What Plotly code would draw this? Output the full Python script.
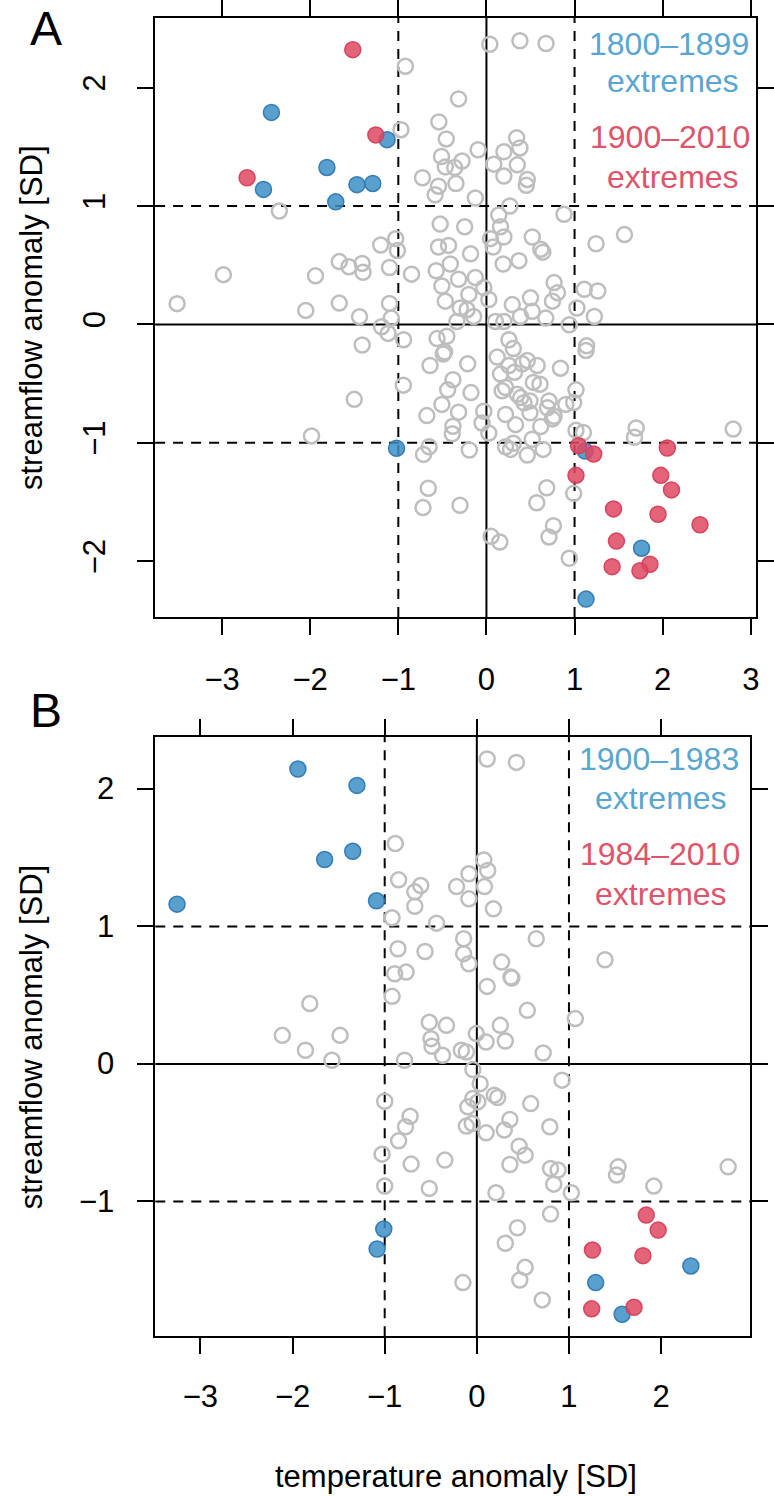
import plotly.graph_objects as go

# ---------------- data ----------------
# Panel A (1800-2010): grey = all years, blue = 1800-1899 extremes, red = 1900-2010 extremes
a_grey_x = [-2.35, -2.985, -3.51, -1.94, -1.67, -1.56, -1.41, -1.40, -1.20, -1.10, -2.05, -1.67, -1.44, -1.10, -1.19, -1.116, -1.41,
            0.038, 0.38, 0.676, -0.92, -0.316, -0.97, -0.54, -0.456, -0.095, 0.343, 0.38, 0.198, -0.51, -0.277, -0.36, -0.467,
            0.083, 0.35, -0.726, -0.346, -0.544, -0.582, 0.198, 0.464, 0.453, -0.126, 0.266, 0.88, 0.14, -0.525, -0.247, 0.16,
            1.566, 1.244, 0.52, 0.64, 0.617, 0.046, 0.198, 0.076, -0.544, -0.43, -1.03, -1.01, -0.18, 0.369, 0.19, -0.41, -0.57,
            -0.85, -0.506, -0.316, -0.2, -0.126, -0.03, 0.027, -0.467, -0.297, -0.22, -0.145, -0.335, 0.293, 0.50, 0.768, 0.806,
            0.749, 0.673, 0.52, 0.386, 0.198, 0.102, 1.11, 1.263, 1.027, 1.225, 0.94, -1.08, -0.94, -0.56, -0.45, 0.255, 1.13, -0.49,
            1.137, 1.016, 0.90, 0.99, 1.7, 1.68, 2.8, 1.016, 1.10, 0.684, 0.571, 0.99, 0.76, 0.71, 0.94, 0.053, 0.152, -0.66, -0.72,
            -0.30, -0.65, -0.714, -0.194, -0.943, -0.676, -0.506, -0.38, -0.388, -0.316, -0.38, -0.44, -0.175, -0.475, -0.64,
            -0.213, -0.03, -0.05, 0.027, 0.217, 0.33, 0.494, 0.616, 0.52, 0.643, 0.464, 0.274, 0.217, 0.305, 0.749, 0.692, 0.71,
            0.388, 0.426, 0.494, 0.35, 0.608, 0.532, 0.179, 0.217, 0.16, 0.319, 0.255, 0.122, 0.305, 0.464, 0.576, 0.407, 0.84,
            0.768, -1.50, -1.985]
a_grey_y = [0.957, 0.42, 0.175, 0.41, 0.53, 0.487, 0.515, 0.44, 0.67, 0.48, 0.118, 0.18, 0.065, 0.177, -0.02, -0.076, -0.174,
            2.366, 2.395, 2.372, 2.18, 1.904, 1.644, 1.71, 1.566, 1.475, 1.575, 1.49, 1.458, 1.418, 1.38, 1.324, 1.33,
            1.353, 1.347, 1.238, 1.19, 1.167, 1.095, 1.252, 1.224, 1.175, 1.067, 1.0, 0.93, 0.924, 0.847, 0.824, 0.824,
            0.758, 0.681, 0.738, 0.61, 0.635, 0.724, 0.738, 0.653, 0.653, 0.667, 0.724, 0.624, 0.596, 0.538, 0.51, 0.51, 0.453,
            0.424, 0.324, 0.381, 0.253, 0.396, 0.31, 0.21, 0.196, 0.138, 0.124, 0.067, 0.024, 0.167, 0.224, 0.353, 0.268,
            0.196, 0.053, 0.11, 0.067, 0.024, 0.024, 0.296, 0.282, 0.138, 0.067, -0.004, 0.053, -0.13, -0.12, -0.10, -0.13, -0.22, -0.25,
            -0.181, -0.553, -0.676, -0.66, -0.875, -0.953, -0.884, -0.895, -0.913, -1.38, -1.506, -1.427, -1.70, -1.795, -1.975, -1.79, -1.838, -1.384, -1.547,
            -1.527, -1.033, -1.098, -1.061, -0.513, -0.77, -0.676, -0.86, -0.924, -0.741, -0.467, -0.553, -0.576, -0.233, -0.347,
            -0.333, -0.733, -0.833, -0.918, -0.761, -0.847, -0.747, -0.862, -0.97, -1.056, -1.104, -1.056, -1.033, -1.004, -0.798, -0.704, -0.647,
            -0.618, -0.662, -0.647, -0.59, -0.505, -0.49, -0.561, -0.533, -0.419, -0.404, -0.347, -0.276, -0.204, -0.305, -0.347, -0.333, -0.37,
            -0.776, -0.633, -0.942]
a_blue_x = [-2.44, -1.127, -1.81, -2.53, -1.47, -1.29, -1.71, -1.02, 1.12, 1.76, 1.13]
a_blue_y = [1.79, 1.56, 1.325, 1.14, 1.18, 1.19, 1.035, -1.047, -1.07, -1.89, -2.32]
a_red_x = [-1.517, -1.255, -2.716, 1.045, 1.217, 2.053, 1.016, 1.978, 2.1, 1.442, 1.947, 2.423, 1.475, 1.426, 1.855, 1.742]
a_red_y = [2.32, 1.60, 1.238, -1.024, -1.095, -1.044, -1.275, -1.275, -1.398, -1.558, -1.603, -1.692, -1.83, -2.046, -2.026, -2.08]

# Panel B (1900-2010): blue = 1900-1983 extremes, red = 1984-2010 extremes
b_grey_x = [-0.885, -0.849, -0.609, -0.673, -0.673, -0.92, -0.437, -0.856, -0.562, -0.892, -0.767, -0.92, -1.813, -2.111,
            -1.484, -1.86, -1.573, -0.516, -0.329, -0.498, -0.487, -0.372, -0.785,
            0.112, 0.43, 0.075, 0.118, -0.086, -0.22, 0.083, -0.086, 0.18, 0.645, -0.143, -0.143, -0.086, 0.269, 1.391, 0.37, 0.38,
            0.112, 0.548, 1.069, 0.255, -0.006, 0.309, 0.1, -0.168, -0.114, 0.72,
            -1.0, -0.724, -0.774, -0.849, -1.028, -0.713, -0.347, -1.0, -0.516,
            -0.043, 0.036, 0.19, 0.226, -0.043, 0.011, -0.097, 0.585, 0.925, -0.114, -0.05, 0.101, 0.298, 0.359, 0.792, 0.459,
            0.524, 0.359, 0.8, 0.882, 0.835, 1.026, 0.208, 1.534, 1.516, 2.728, 1.921, 0.8, 0.441, 0.309, 0.524, 0.466, -0.151, 0.71]
b_grey_y = [1.603, 1.339, 1.298, 1.252, 1.147, 1.063, 1.024, 0.838, 0.818, 0.656, 0.668, 0.492, 0.439, 0.208,
            0.208, 0.10, 0.027, 0.303, 0.281, 0.184, 0.129, 0.063, 0.027,
            2.218, 2.193, 1.484, 1.407, 1.383, 1.29, 1.29, 1.201, 1.128, 0.911, 0.911, 0.802, 0.729, 0.741, 0.758, 0.632, 0.625,
            0.564, 0.39, 0.33, 0.281, 0.221, 0.167, 0.16, 0.1, 0.087, 0.08,
            -0.271, -0.38, -0.457, -0.559, -0.656, -0.728, -0.699, -0.888, -0.905,
            -0.041, -0.143, -0.227, -0.244, -0.251, -0.276, -0.312, -0.288, -0.118, -0.452, -0.433, -0.501, -0.481, -0.404, -0.457, -0.598,
            -0.663, -0.731, -0.76, -0.772, -0.874, -0.937, -0.937, -0.748, -0.808, -0.748, -0.888, -1.092, -1.191, -1.304, -1.479, -1.571, -1.59, -1.716]
b_blue_x = [-1.942, -1.301, -1.347, -1.652, -3.254, -1.089, -1.01, -1.082, 2.323, 1.29, 1.577]
b_blue_y = [2.145, 2.026, 1.547, 1.487, 1.162, 1.187, -1.2, -1.346, -1.469, -1.59, -1.82]
b_red_x = [1.839, 1.968, 1.255, 1.803, 1.247, 1.706]
b_red_y = [-1.099, -1.208, -1.353, -1.394, -1.781, -1.769]

ref_lines = [-1, 0, 1]
b_ytick_vals = [-1, 0, 1, 2]
b_ytick_text = ["\u22121", "0", "1", "2"]
legend_a = ["1800\u20131899", "extremes", "1900\u20132010", "extremes"]
legend_b = ["1900\u20131983", "extremes", "1984\u20132010", "extremes"]
x_title = "temperature anomaly [SD]"
y_title = "streamflow anomaly [SD]"

# ---------------- style ----------------
W, H = 774, 1496
FONT = "Liberation Sans, Arial, Helvetica, sans-serif"
GREY = "rgb(190,190,190)"
BLUE = "rgba(60,143,198,0.85)"
BLUE_LINE = "rgba(45,120,178,0.95)"
RED = "rgba(222,72,98,0.85)"
RED_LINE = "rgba(215,62,88,0.95)"
BLUE_TXT = "rgb(88,166,210)"
RED_TXT = "rgb(222,84,106)"


def px_x(p):
    return p / W


def px_y(p):
    return 1 - p / H


fig = go.Figure()


def add_panel(xs, ys, bx, by, rx, ry, xa, ya):
    fig.add_trace(go.Scatter(x=xs, y=ys, mode="markers", xaxis=xa, yaxis=ya, showlegend=False,
                             marker=dict(symbol="circle-open", size=15, color=GREY, line=dict(width=2.5, color=GREY))))
    fig.add_trace(go.Scatter(x=bx, y=by, mode="markers", xaxis=xa, yaxis=ya, showlegend=False,
                             marker=dict(symbol="circle", size=16, color=BLUE, line=dict(width=1.5, color=BLUE_LINE))))
    fig.add_trace(go.Scatter(x=rx, y=ry, mode="markers", xaxis=xa, yaxis=ya, showlegend=False,
                             marker=dict(symbol="circle", size=16, color=RED, line=dict(width=1.5, color=RED_LINE))))


add_panel(a_grey_x, a_grey_y, a_blue_x, a_blue_y, a_red_x, a_red_y, "x", "y")
add_panel(b_grey_x, b_grey_y, b_blue_x, b_blue_y, b_red_x, b_red_y, "x2", "y2")

shapes = []
for xr, yr in (("x", "y"), ("x2", "y2")):
    for v in ref_lines:
        dash = "solid" if v == 0 else "10px,8px"
        shapes.append(dict(type="line", xref=xr, yref=yr + " domain", x0=v, x1=v, y0=0, y1=1,
                           line=dict(color="black", width=2, dash=dash), layer="below"))
        shapes.append(dict(type="line", xref=xr + " domain", yref=yr, x0=0, x1=1, y0=v, y1=v,
                           line=dict(color="black", width=2, dash=dash), layer="below"))

axis_common = dict(showgrid=False, zeroline=False, showline=True, linecolor="black", linewidth=2,
                   mirror="ticks", ticks="outside", ticklen=16, tickwidth=2, tickcolor="black",
                   dtick=1, tick0=0, tickfont=dict(family=FONT, size=31, color="black"))

fig.update_layout(
    width=W, height=H, autosize=False,
    margin=dict(l=0, r=0, t=0, b=0),
    paper_bgcolor="white", plot_bgcolor="white",
    font=dict(family=FONT, color="black"),
    shapes=shapes,
    xaxis=dict(axis_common, domain=[px_x(156.5), px_x(763)], range=[-3.76, 3.06], anchor="y",
               ticklabelstandoff=18),
    yaxis=dict(axis_common, domain=[px_y(615.7), px_y(15.7)], range=[-2.47, 2.59], anchor="x",
               tickangle=-90, ticklabelstandoff=20),
    xaxis2=dict(axis_common, domain=[px_x(156.7), px_x(757.3)], range=[-3.49, 2.97], anchor="y2",
                ticklabelstandoff=16),
    yaxis2=dict(axis_common, domain=[px_y(1336), px_y(735.7)], range=[-1.98, 2.38], anchor="x2",
                tickmode="array", tickvals=b_ytick_vals, showticklabels=False),
)

ann = []
# panel B y tick labels (upright, placed close to the ticks as in the reference)
for v, t in zip(b_ytick_vals, b_ytick_text):
    ann.append(dict(text=t, x=px_x(117), y=v, xref="paper", yref="y2", showarrow=False,
                    font=dict(family=FONT, size=31, color="black"), xanchor="right", yanchor="middle"))
# panel letters
ann.append(dict(text="A", x=px_x(46), y=px_y(27), xref="paper", yref="paper", showarrow=False,
                font=dict(family=FONT, size=48, color="black"), xanchor="center", yanchor="middle"))
ann.append(dict(text="B", x=px_x(46), y=px_y(709), xref="paper", yref="paper", showarrow=False,
                font=dict(family=FONT, size=48, color="black"), xanchor="center", yanchor="middle"))
# axis titles
ann.append(dict(text=y_title, x=px_x(32), y=px_y(315.7), xref="paper", yref="paper", showarrow=False, textangle=-90,
                font=dict(family=FONT, size=31, color="black"), xanchor="center", yanchor="middle"))
ann.append(dict(text=y_title, x=px_x(32), y=px_y(1036), xref="paper", yref="paper", showarrow=False, textangle=-90,
                font=dict(family=FONT, size=31, color="black"), xanchor="center", yanchor="middle"))
ann.append(dict(text=x_title, x=px_x(460), y=px_y(1476), xref="paper", yref="paper", showarrow=False,
                font=dict(family=FONT, size=31, color="black"), xanchor="center", yanchor="middle"))
# legend texts
for txt, cx, cy, col in zip(legend_a, [675, 679, 676, 679], [42, 79, 135, 175], [BLUE_TXT, BLUE_TXT, RED_TXT, RED_TXT]):
    ann.append(dict(text=txt, x=px_x(cx), y=px_y(cy), xref="paper", yref="paper", showarrow=False,
                    font=dict(family=FONT, size=32, color=col), xanchor="center", yanchor="middle"))
for txt, cx, cy, col in zip(legend_b, [665, 667, 666, 667], [758, 797, 853, 893], [BLUE_TXT, BLUE_TXT, RED_TXT, RED_TXT]):
    ann.append(dict(text=txt, x=px_x(cx), y=px_y(cy), xref="paper", yref="paper", showarrow=False,
                    font=dict(family=FONT, size=32, color=col), xanchor="center", yanchor="middle"))
fig.update_layout(annotations=ann)

# remove the browser's default 8px page margin so the figure sits at the window's top-left corner
fig.write_html("out.html", config={"displayModeBar": False},
               post_script="document.body.style.margin='0';")
